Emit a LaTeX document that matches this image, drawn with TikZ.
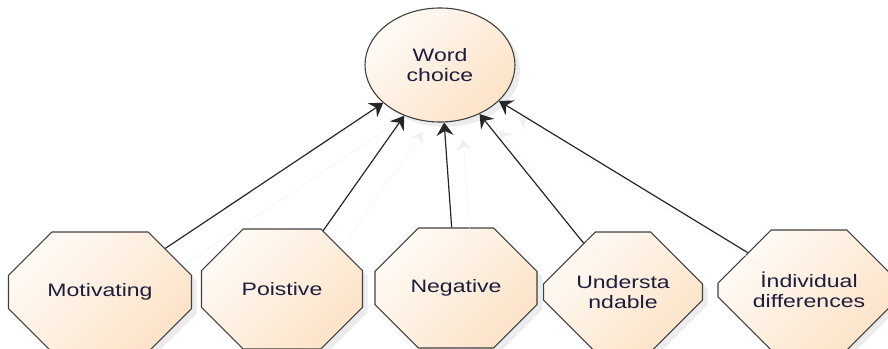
\documentclass[tikz,border=0pt]{standalone}
\usepackage{fontspec}
\setmainfont{Liberation Sans}[FakeStretch=1.28]
\usetikzlibrary{shapes.geometric,shapes.misc,arrows.meta,shadows}
\definecolor{peachlo}{HTML}{FFFAF5}
\definecolor{peachhi}{HTML}{FCE3C8}
\definecolor{inktext}{HTML}{1E1E3C}
\begin{document}
\begin{tikzpicture}[x=1pt,y=-1pt,
    octa/.style={chamfered rectangle, chamfered rectangle xsep=#1, chamfered rectangle ysep=35pt, minimum height=120pt, inner sep=0pt},
    octa/.default=48pt]
  \useasboundingbox (0,0) rectangle (888,348);
  \clip (0,0) rectangle (888,348);
  \begin{scope}[every node/.style={draw=black!75, line width=1.1pt, top color=peachlo, bottom color=peachhi, shading angle=45,
      drop shadow={opacity=0.15, shadow xshift=5pt, shadow yshift=-5pt},
      text=inktext, font=\fontsize{18}{20.5}\selectfont, align=center}]
    \node[ellipse, minimum width=150pt, minimum height=114pt, inner sep=0pt] (word) at (440,65) {Word\\choice};
    \node[octa=54pt, minimum width=183pt] (mot) at (100,292) {Motivating};
    \node[octa, minimum width=161pt] (poi) at (282,289) {Poistive};
    \node[octa, minimum width=162pt] (neg) at (456,288) {Negative};
    \node[octa=43pt, minimum width=159pt] (und) at (623,292) {Understa\\ndable};
    \node[octa=55pt, minimum width=182pt] (ind) at (809,290) {İndividual\\differences};
  \end{scope}
  \begin{scope}[every edge/.style={draw=black!85, line width=1.2pt, -{Stealth[length=13pt, width=17pt, inset=4.5pt]},
      preaction={draw=black!6, transform canvas={shift={(19pt,-16pt)}}}}]
    \path (mot) edge (word);
    \path (poi) edge (word);
    \path (neg) edge (word);
    \path (und) edge (word);
    \path (ind) edge (word);
  \end{scope}
\end{tikzpicture}
\end{document}
